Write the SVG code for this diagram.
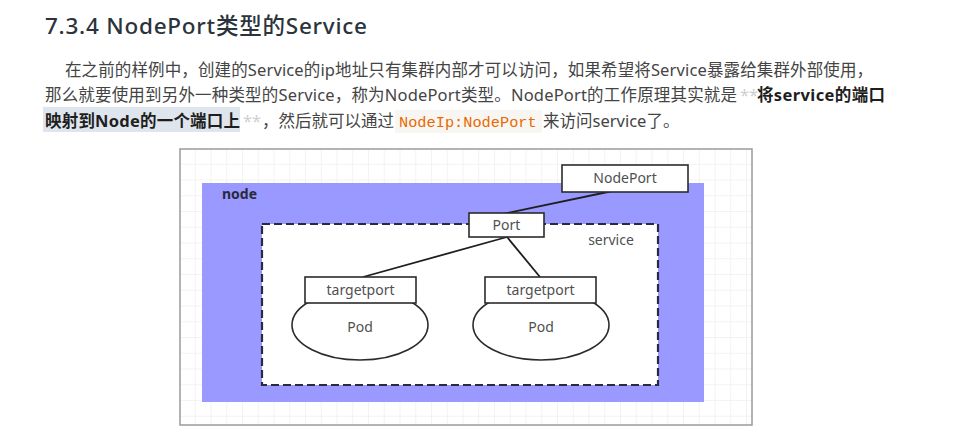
<svg xmlns="http://www.w3.org/2000/svg" width="953" height="441" viewBox="0 0 953 441">
  <defs>
    <style>
      .title{font-family:"Noto Sans","Noto Sans CJK SC",sans-serif;font-size:22.5px;font-weight:500;fill:#2b333d}
      .body{font-family:"Noto Sans","Noto Sans CJK SC",sans-serif;font-size:16.5px;fill:#444444}
      .bold{font-family:"Noto Sans","Noto Sans CJK SC",sans-serif;font-size:16.5px;font-weight:bold;fill:#1e1e1e}
      .star{font-family:"Noto Sans",sans-serif;font-size:16.5px;fill:#cfcfcf}
      .code{font-family:"Liberation Mono",monospace;font-size:15.3px;fill:#e96900}
      .lbl{font-family:"Noto Sans",sans-serif;font-size:14px;fill:#505050;text-anchor:middle}
      .box{fill:#ffffff;stroke:#2b2b2b;stroke-width:1.6}
      .conn{stroke:#1e1e1e;stroke-width:1.8;fill:none}
    </style>
    <pattern id="grid" x="180" y="149" width="15.75" height="15.75" patternUnits="userSpaceOnUse">
      <path d="M15.75 0V15.75M0 15.75H15.75" fill="none" stroke="#e8e8e8" stroke-width="1"/>
    </pattern>
  </defs>
  <rect x="0" y="0" width="953" height="441" fill="#ffffff"/>

  <g id="heading">
    <text class="title" x="45" y="34" textLength="322">7.3.4 NodePort类型的Service</text>
  </g>

  <g id="paragraph">
    <text class="body" x="65" y="76" textLength="808" lengthAdjust="spacing">在之前的样例中，创建的Service的ip地址只有集群内部才可以访问，如果希望将Service暴露给集群外部使用，</text>
    <text class="body" x="45" y="101" textLength="692" lengthAdjust="spacing">那么就要使用到另外一种类型的Service，称为NodePort类型。NodePort的工作原理其实就是</text>
    <text class="star" x="740" y="101">**</text>
    <text class="bold" x="757" y="101" textLength="128" lengthAdjust="spacing">将service的端口</text>
    <rect x="43" y="107" width="197" height="25" fill="#dfe5ec"/>
    <text class="bold" x="45" y="127" textLength="195" lengthAdjust="spacing">映射到Node的一个端口上</text>
    <text class="star" x="243" y="127">**</text>
    <text class="body" x="262" y="127" textLength="132" lengthAdjust="spacing">，然后就可以通过</text>
    <rect x="395" y="110" width="147" height="23" fill="#f8f6f3"/>
    <text class="code" x="399" y="127">NodeIp:NodePort</text>
    <text class="body" x="543" y="127">来访问service了。</text>
  </g>

  <g id="frame">
    <rect x="180" y="149" width="572" height="276" fill="#ffffff"/>
    <rect x="180" y="149" width="572" height="276" fill="url(#grid)"/>
    <rect x="180" y="149" width="572" height="276" fill="none" stroke="#9a9a9a" stroke-width="1.5"/>
  </g>

  <g id="node">
    <rect x="202" y="183" width="502" height="219" fill="#9999ff"/>
    <text x="222" y="199" font-family="Noto Sans, sans-serif" font-size="14" font-weight="bold" fill="#2a2a3a">node</text>
  </g>

  <g id="service">
    <rect x="262" y="224" width="396" height="161" fill="#ffffff" stroke="#2a2a3c" stroke-width="2.2" stroke-dasharray="8 4"/>
    <text class="lbl" x="611" y="245">service</text>
  </g>

  <g id="connectors">
    <line class="conn" x1="622" y1="189" x2="503" y2="214"/>
    <line class="conn" x1="507" y1="237" x2="363" y2="277"/>
    <line class="conn" x1="507" y1="237" x2="540" y2="277"/>
  </g>

  <g id="nodeport">
    <rect class="box" x="562" y="165" width="126" height="27"/>
    <text class="lbl" x="625" y="183">NodePort</text>
  </g>

  <g id="port">
    <rect class="box" x="469" y="213" width="75" height="24"/>
    <text class="lbl" x="506.5" y="230">Port</text>
  </g>

  <g id="pod1">
    <ellipse class="box" cx="360" cy="325" rx="68" ry="35"/>
    <text class="lbl" x="360" y="332">Pod</text>
  </g>
  <g id="targetport1">
    <rect class="box" x="305" y="277" width="111" height="26"/>
    <text class="lbl" x="360.5" y="295">targetport</text>
  </g>

  <g id="pod2">
    <ellipse class="box" cx="541" cy="325" rx="68" ry="35"/>
    <text class="lbl" x="541" y="332">Pod</text>
  </g>
  <g id="targetport2">
    <rect class="box" x="485" y="277" width="111" height="26"/>
    <text class="lbl" x="540.5" y="295">targetport</text>
  </g>
</svg>
